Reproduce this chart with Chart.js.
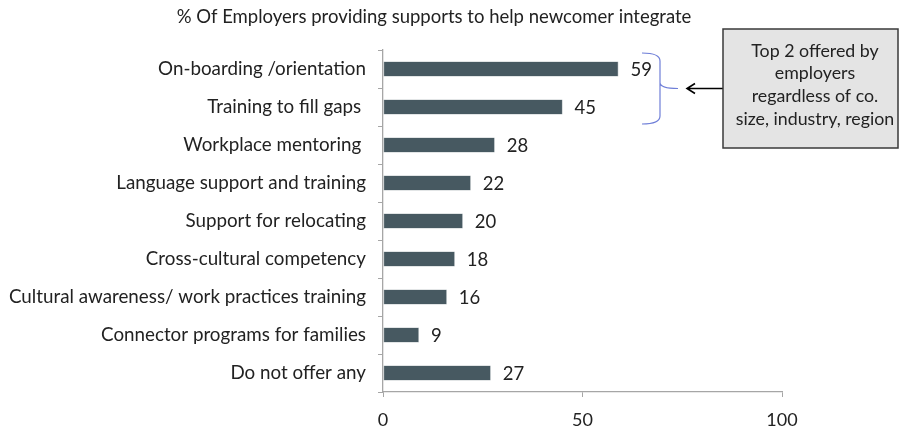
<!DOCTYPE html>
<html>
<head>
<meta charset="utf-8">
<script src="https://cdn.jsdelivr.net/npm/chart.js@4"></script>
<style>
  html, body { margin: 0; padding: 0; background: #ffffff; }
  #wrap { width: 901px; height: 430px; }
</style>
</head>
<body>
<div id="wrap"><canvas id="supportsChart" width="901" height="430"></canvas></div>
<script>
const categories = [
    "On-boarding /orientation",
    "Training to fill gaps ",
    "Workplace mentoring ",
    "Language support and training",
    "Support for relocating",
    "Cross-cultural competency",
    "Cultural awareness/ work practices training",
    "Connector programs for families",
    "Do not offer any"
];
const percentages = [59, 45, 28, 22, 20, 18, 16, 9, 27];
const xTicks = [0, 50, 100];

const chartTitle = "% Of Employers providing supports to help newcomer integrate";
const noteLines = ["Top 2 offered by", "employers", "regardless of co.", "size, industry, region"];

const FONT = "Lato, 'Open Sans', sans-serif";
const TEXT = "#222222";

// value labels, title and the callout box
const extras = {
    id: "extras",
    afterDatasetsDraw(chart) {
        const ctx = chart.ctx;
        const x = chart.scales.x, y = chart.scales.y;
        ctx.save();
        ctx.fillStyle = TEXT;
        ctx.font = "18.5px " + FONT;
        ctx.textAlign = "left";
        ctx.textBaseline = "middle";
        percentages.forEach((v, i) => {
            ctx.fillText(String(v), x.getPixelForValue(v) + 12, y.getPixelForValue(i) + 1);
        });

        ctx.font = "18.5px " + FONT;
        ctx.textAlign = "center";
        ctx.fillText(chartTitle, 434, 17);

        // bracket around the top two bars
        const top = y.getPixelForValue(0) - 16, bot = y.getPixelForValue(1) + 17;
        const mid = (top + bot) / 2;
        ctx.strokeStyle = "#6f7fd8";
        ctx.lineWidth = 1.2;
        ctx.beginPath();
        ctx.moveTo(642, top);
        ctx.quadraticCurveTo(660, top, 660, top + 8);
        ctx.lineTo(660, mid - 6);
        ctx.quadraticCurveTo(660, mid, 678, mid);
        ctx.moveTo(660, mid - 6);
        ctx.quadraticCurveTo(660, mid, 660, mid + 6);
        ctx.lineTo(660, bot - 8);
        ctx.quadraticCurveTo(660, bot, 642, bot);
        ctx.stroke();

        // arrow from the box
        ctx.strokeStyle = "#000000";
        ctx.lineWidth = 1.6;
        ctx.beginPath();
        ctx.moveTo(723, mid);
        ctx.lineTo(688, mid);
        ctx.moveTo(695, mid - 5);
        ctx.lineTo(687, mid);
        ctx.lineTo(695, mid + 5);
        ctx.stroke();

        // callout box
        ctx.fillStyle = "#e4e4e4";
        ctx.fillRect(723, 29, 175, 119);
        ctx.strokeStyle = "#3a3a3a";
        ctx.lineWidth = 1.5;
        ctx.strokeRect(723, 29, 175, 119);
        ctx.fillStyle = TEXT;
        ctx.font = "17.8px " + FONT;
        noteLines.forEach((line, i) => {
            ctx.fillText(line, 815, 51 + i * 22.7);
        });
        ctx.restore();
    }
};

const ctx = document.getElementById("supportsChart").getContext("2d");
new Chart(ctx, {
    type: "bar",
    data: {
        labels: categories,
        datasets: [{
            data: percentages,
            backgroundColor: "#475961",
            borderColor: "#8a979c",
            borderWidth: 0.6,
            borderSkipped: false,
            categoryPercentage: 1,
            barPercentage: 0.40
        }]
    },
    options: {
        indexAxis: "y",
        responsive: false,
        animation: false,
        layout: { padding: { top: 50, right: 119, left: 0, bottom: 0 } },
        plugins: {
            legend: { display: false },
            tooltip: { enabled: false }
        },
        scales: {
            x: {
                min: 0,
                max: 100,
                afterBuildTicks(scale) {
                    scale.ticks = xTicks.map(v => ({ value: v }));
                },
                afterFit(scale) { scale.height = 38; },
                grid: {
                    drawOnChartArea: false,
                    tickLength: 5,
                    color: "#a6a6a6"
                },
                border: { color: "#a6a6a6", width: 1.3 },
                ticks: {
                    color: TEXT,
                    font: { family: FONT, size: 18 },
                    padding: 12
                }
            },
            y: {
                afterFit(scale) { scale.width = 383; },
                grid: {
                    drawOnChartArea: false,
                    offset: true,
                    tickLength: 5,
                    color: "#a6a6a6"
                },
                border: { color: "#a6a6a6", width: 1.3 },
                ticks: {
                    color: TEXT,
                    font: { family: FONT, size: 18.8 },
                    padding: 12
                }
            }
        }
    },
    plugins: [extras]
});
</script>
</body>
</html>
